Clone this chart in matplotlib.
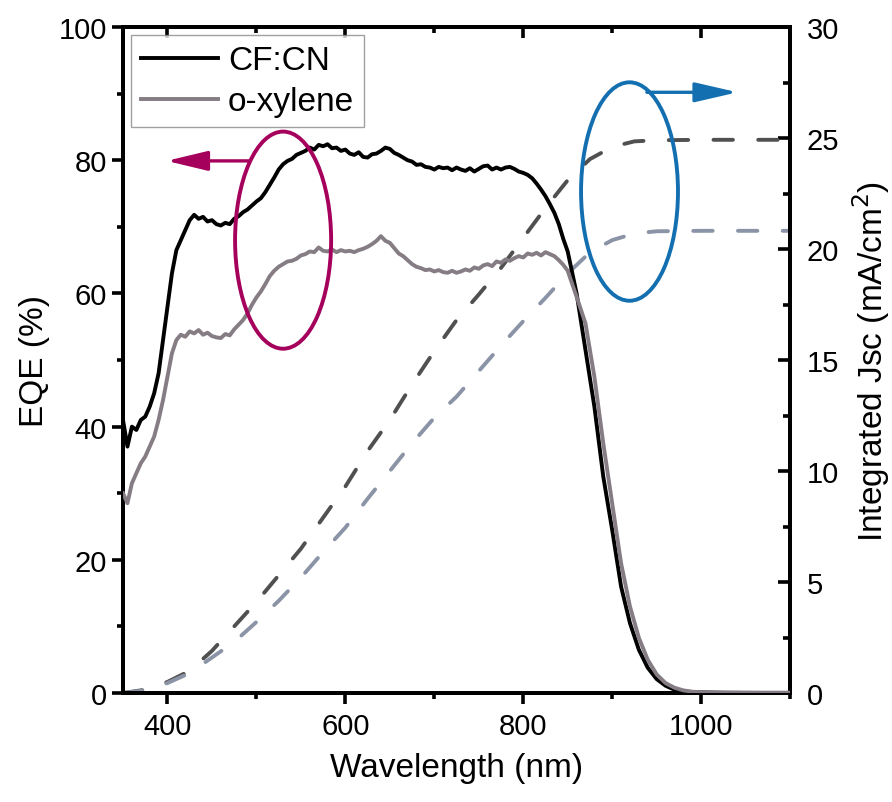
import numpy as np
import matplotlib
matplotlib.use('Agg')
import matplotlib.pyplot as plt
from matplotlib.patches import Ellipse
from matplotlib.ticker import MultipleLocator

plt.rcParams['font.family'] = ['Liberation Sans', 'DejaVu Sans']

# EQE wavelength grid: 5 nm up to 850, then coarser in the tail
wavelength = np.concatenate([np.arange(350, 851, 5), np.arange(860, 1001, 10), [1025, 1050, 1075, 1100]])

eqe_cfcn = [
    41, 37, 40, 39.5, 41, 41.5, 43, 45, 48, 53,
    58, 63, 66.5, 68, 69.5, 71, 71.8, 71.2, 71.5, 70.8,
    71, 70.4, 70.2, 70.6, 70.4, 71.2, 71.6, 72.2, 72.6, 73.2,
    73.8, 74.3, 75.2, 76.3, 77.4, 78.6, 79.4, 79.9, 80.2, 80.8,
    81.1, 81.4, 81.9, 81.6, 82.3, 82.1, 82.4, 81.8, 81.9, 81.4,
    81.6, 81.0, 80.8, 81.2, 80.5, 80.4, 80.9, 81.0, 81.4, 81.9,
    81.7, 81.1, 80.8, 80.4, 80.0, 79.8, 79.3, 79.4, 79.0, 78.9,
    78.6, 79.0, 78.8, 78.9, 78.5, 78.9, 78.6, 78.4, 78.8, 78.3,
    78.7, 79.1, 79.2, 78.6, 78.9, 78.6, 78.9, 79.0, 78.7, 78.3,
    78.1, 77.8, 77.3, 76.5, 75.6, 74.6, 73.4, 72.1, 70.4, 68.2,
    66.3,
    60.0, 51.5, 43, 32.5, 24.5, 16, 10.5, 6.5, 3.8, 2.1,
    1.1, 0.5, 0.25, 0.15, 0.1,
    0.05, 0.03, 0.02, 0.02,
]

eqe_oxylene = [
    30, 28.5, 31.5, 33, 34.5, 35.5, 37, 38.5, 41, 44,
    47.5, 51, 53, 53.8, 53.5, 54.3, 54.0, 54.5, 53.8, 54.1,
    53.6, 53.4, 53.3, 53.9, 53.7, 54.6, 55.3, 56.0, 57.0, 58.3,
    59.4, 60.3, 61.4, 62.6, 63.4, 64.0, 64.4, 64.8, 64.9, 65.2,
    65.7, 65.9, 66.3, 66.2, 66.9, 66.4, 66.3, 66.6, 66.2, 66.5,
    66.3, 66.4, 66.2, 66.5, 66.7, 67.0, 67.4, 67.9, 68.6, 67.9,
    67.6, 66.8, 66.0, 65.6, 65.0, 64.4, 64.0, 63.8, 63.5, 63.6,
    63.3, 63.5, 63.2, 63.1, 63.4, 63.1, 63.3, 63.6, 63.4, 63.9,
    63.7, 64.2, 64.4, 64.1, 64.8, 64.6, 65.1, 64.9, 65.3, 65.6,
    65.4, 66.0, 65.8, 66.1, 65.7, 66.2, 65.9, 65.6, 65.0, 64.3,
    63.4,
    59.5, 55.5, 47.5, 37.5, 28.5, 19.5, 13, 8.3, 5, 2.8,
    1.5, 0.8, 0.4, 0.2, 0.12,
    0.06, 0.05, 0.05, 0.05,
]

# integrated Jsc (right axis)
jsc_wavelength = [350, 375, 400, 425, 450, 475, 500, 525, 550, 575, 600, 625, 650, 675, 700,
                  725, 750, 775, 800, 825, 850, 875, 900, 925, 950, 1000, 1100]
jsc_cfcn = [0, 0.15, 0.5, 1.0, 1.9, 3.0, 4.1, 5.3, 6.5, 7.9, 9.3, 10.9, 12.3, 13.9, 15.4,
            16.8, 17.95, 19.15, 20.5, 21.85, 23.1, 24.05, 24.6, 24.85, 24.9, 24.92, 24.92]
jsc_oxylene = [0, 0.12, 0.45, 0.9, 1.6, 2.3, 3.2, 4.15, 5.2, 6.35, 7.45, 8.75, 10.0, 11.25, 12.4,
               13.35, 14.5, 15.65, 16.75, 17.8, 18.9, 19.85, 20.4, 20.7, 20.8, 20.82, 20.82]

MAGENTA = '#a5005c'
BLUE = '#146fb0'


def main():
    fig = plt.figure(figsize=(8.92, 8.03), dpi=100)
    ax = fig.add_axes([0.1379, 0.1357, 0.7478, 0.8294])
    ax2 = ax.twinx()

    ax2.plot(jsc_wavelength, jsc_cfcn, color='#505050', lw=2.8, dashes=(5, 6.5),
             dash_capstyle='round')
    ax2.plot(jsc_wavelength, jsc_oxylene, color='#8b94a6', lw=2.8, dashes=(5, 6.5),
             dash_capstyle='round')

    ax.plot(wavelength, eqe_cfcn, color='black', lw=2.8, label='CF:CN', zorder=3)
    ax.plot(wavelength, eqe_oxylene, color='#857c84', lw=2.8, label='o-xylene', zorder=3)

    ax.set_zorder(ax2.get_zorder() + 1)
    ax.patch.set_visible(False)

    ax.set_xlim(350, 1100)
    ax.set_ylim(0, 100)
    ax2.set_ylim(0, 30)

    ax.xaxis.set_major_locator(MultipleLocator(200))
    ax.xaxis.set_minor_locator(MultipleLocator(100))
    ax.yaxis.set_major_locator(MultipleLocator(20))
    ax.yaxis.set_minor_locator(MultipleLocator(10))
    ax2.yaxis.set_major_locator(MultipleLocator(5))
    ax2.yaxis.set_minor_locator(MultipleLocator(2.5))

    ax.tick_params(axis='x', which='both', direction='out', top=True, labelsize=21, width=2.6, pad=6)
    ax.tick_params(axis='x', which='major', length=8)
    ax.tick_params(axis='x', which='minor', length=4)
    ax.tick_params(axis='y', which='both', direction='out', labelsize=21, width=2.6)
    ax.tick_params(axis='y', which='major', length=8)
    ax.tick_params(axis='y', which='minor', length=4)
    # top ticks point inward
    for t in ax.xaxis.get_major_ticks() + ax.xaxis.get_minor_ticks():
        t.tick2line.set_marker(3)
    ax2.tick_params(axis='y', which='both', direction='in', labelsize=21, width=2.6, pad=12)
    ax2.tick_params(axis='y', which='major', length=9)
    ax2.tick_params(axis='y', which='minor', length=5)

    for a in (ax, ax2):
        for s in a.spines.values():
            s.set_linewidth(2.8)

    ax.set_xlabel('Wavelength (nm)', fontsize=24, labelpad=8)
    ax.set_ylabel('EQE (%)', fontsize=24, labelpad=6)
    ax2.set_ylabel('Integrated Jsc (mA/cm$^2$)', fontsize=24, labelpad=8)

    leg = ax.legend(loc='upper left', fontsize=24, frameon=True, fancybox=False,
                    handlelength=2.3, handletextpad=0.3, labelspacing=0.3,
                    borderaxespad=0.25, borderpad=0.3)
    leg.get_frame().set_edgecolor('#888888')
    leg.get_frame().set_linewidth(1.0)

    # annotation ellipses and arrows
    ax.add_patch(Ellipse((530, 68), 108, 32.6, fill=False, edgecolor=MAGENTA, lw=2.8, zorder=4))
    ax.annotate('', xy=(399, 79.9), xytext=(491, 79.9),
                arrowprops=dict(arrowstyle='-|>,head_length=1.25,head_width=0.3',
                                mutation_scale=20, color=MAGENTA, lw=2.4, shrinkA=0, shrinkB=0))
    ax.add_patch(Ellipse((919.5, 75.3), 109, 32.8, fill=False, edgecolor=BLUE, lw=2.8, zorder=4))
    ax.annotate('', xy=(1041, 90.2), xytext=(939, 90.2),
                arrowprops=dict(arrowstyle='-|>,head_length=1.3,head_width=0.3',
                                mutation_scale=20, color=BLUE, lw=2.4, shrinkA=0, shrinkB=0))

    fig.savefig('out.png', dpi=100)


if __name__ == '__main__':
    main()
